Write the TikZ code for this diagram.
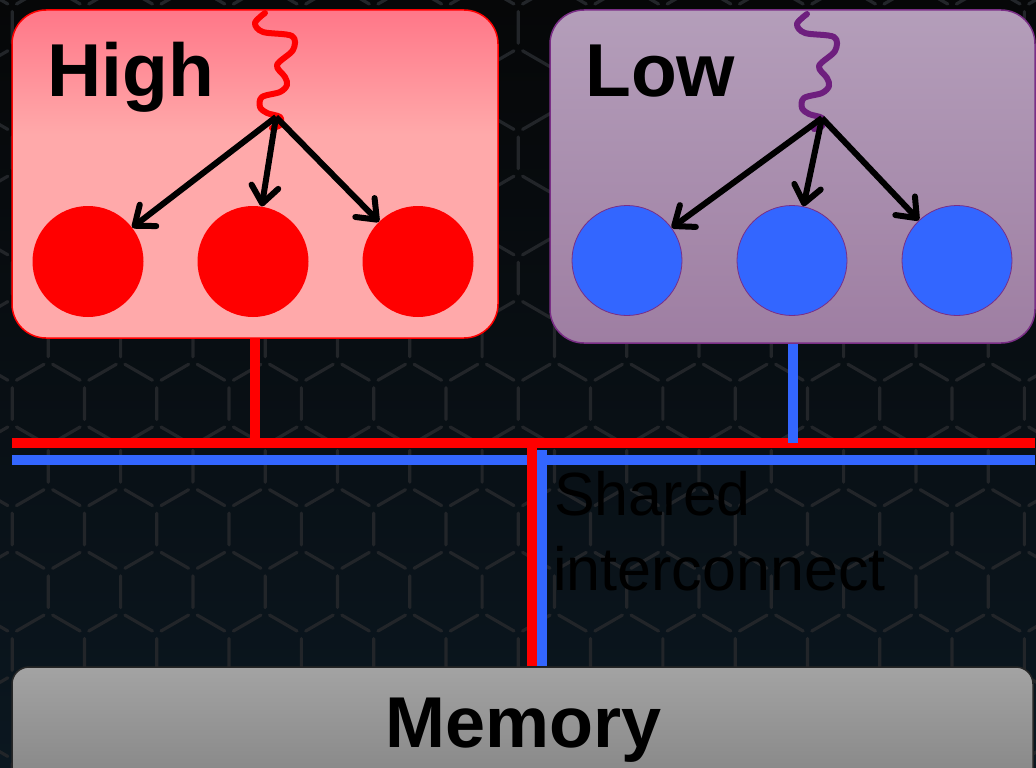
\documentclass[tikz,border=0pt]{standalone}
\usepackage{fontspec}
\setmainfont{Liberation Sans}
\usetikzlibrary{arrows.meta}

\definecolor{bgtop}{HTML}{060708}
\definecolor{bgbot}{HTML}{0B1720}
\definecolor{hexcol}{HTML}{222529}
\definecolor{hightop}{HTML}{FF7788}
\definecolor{highbot}{HTML}{FFA9AA}
\definecolor{lowtop}{HTML}{B49EBA}
\definecolor{lowbot}{HTML}{9E7EA2}
\definecolor{lowedge}{HTML}{7A2E86}
\definecolor{wirered}{HTML}{FF0000}
\definecolor{wireblue}{HTML}{3366FF}
\definecolor{squigpurple}{HTML}{6E1F7E}
\definecolor{memtop}{HTML}{A3A3A3}
\definecolor{membot}{HTML}{838383}

% pink fill: darker band at the top, flat below
\pgfdeclareverticalshading{highfill}{100bp}{color(0bp)=(highbot); color(56bp)=(highbot); color(75bp)=(hightop); color(100bp)=(hightop)}

\tikzset{
  hexline/.style={draw=hexcol, line width=3.2pt, line cap=round},
  highbox/.style={rectangle, rounded corners=34pt, draw=wirered, line width=1.5pt,
    shading=highfill, minimum width=486pt, minimum height=328pt, inner sep=0pt},
  lowbox/.style={rectangle, rounded corners=34pt, draw=lowedge, line width=1.5pt,
    top color=lowtop, bottom color=lowbot, minimum width=485pt, minimum height=333pt, inner sep=0pt},
  membox/.style={rectangle, rounded corners=17pt, draw=black!85, line width=1.5pt,
    top color=memtop, bottom color=membot, minimum width=1021pt, minimum height=130pt, inner sep=0pt},
  hdot/.style={circle, fill=wirered, minimum size=111pt, inner sep=0pt},
  ldot/.style={circle, fill=wireblue, draw=lowedge, line width=0.8pt, minimum size=110pt, inner sep=0pt},
  fanout/.style={draw=black, line width=6pt, -{Straight Barb[length=17pt,width=27pt,round]}},
  wire/.style={line width=10pt},
  title/.style={font=\fontsize{75pt}{90pt}\selectfont\bfseries, inner sep=0pt, anchor=base west},
  memtitle/.style={font=\fontsize{72pt}{86pt}\selectfont\bfseries, inner sep=0pt, anchor=base west},
  note/.style={font=\fontsize{61pt}{75pt}\selectfont, text=black, inner sep=0pt, anchor=base west},
  squiggle/.pic={
    \draw[line width=6pt, line cap=round, line join=round]
      plot[smooth, tension=0.55] coordinates {(0,0) (-10,10) (-2,19) (27,23) (28,37) (12,52)
        (20,64) (22,72) (15,79) (-3,84) (-5,94) (2,100) (15,104) (15,112) (7,115)};
  }
}

\begin{document}
\begin{tikzpicture}[x=1pt, y=-1pt]
\useasboundingbox (0,0) rectangle (1036,768);
\clip (0,0) rectangle (1036,768);

% dark backdrop
\shade[top color=bgtop, bottom color=bgbot] (0,0) rectangle (1036,768);

% hexagon texture: each cell draws its left side and two upper sides, with gaps at the corners
\foreach \m in {-5,...,2} {
  \foreach \k in {-1,...,15} {
    \foreach \off/\dy in {0/0, -36.15/62.7} {
      \draw[hexline, shift={({48.3+72.3*\k+\off},{529+125.4*\m+\dy})}]
        (-36.15,-15.9) -- (-36.15,15.9)
        (-31.82,-23.4) -- (-4.33,-39.3)
        (4.33,-39.3) -- (31.82,-23.4);
    }
  }
}

% two domains
\node[highbox] (highbox) at (255,174) {};
\node[lowbox] (lowbox) at (792.5,176.5) {};

\node[title] (hightxt) at (47.5,96.7) {High};
\node[title] (lowtxt) at (585,96.5) {Low};

\node[hdot] (h1) at (88,261.5) {};
\node[hdot] (h2) at (253,261.5) {};
\node[hdot] (h3) at (418,261.5) {};

\node[ldot] (l1) at (627,260.5) {};
\node[ldot] (l2) at (792,260.5) {};
\node[ldot] (l3) at (957,260.5) {};

% incoming event squiggles
\pic[color=wirered] at (265,13) {squiggle};
\pic[color=squigpurple] at (807,14) {squiggle};

\coordinate (hfan) at (276,117);
\coordinate (lfan) at (822,118);
\draw[fanout] (hfan) -- (h1);
\draw[fanout] (hfan) -- (h2);
\draw[fanout] (hfan) -- (h3);
\draw[fanout] (lfan) -- (l1);
\draw[fanout] (lfan) -- (l2);
\draw[fanout] (lfan) -- (l3);

% shared interconnect
\coordinate (rbusW) at (12,443);
\coordinate (rbusE) at (1035,443);
\coordinate (bbusW) at (12,460);
\coordinate (bbusE) at (1035,460);
\draw[wire, wirered] (rbusW) -- (rbusE);
\draw[wire, wireblue] (bbusW) -- (bbusE);
\draw[wire, wirered] (highbox.south) -- (highbox.south |- rbusW);
\draw[wire, wireblue] (lowbox.south) -- (lowbox.south |- rbusW);

\node[membox] (mem) at (522.5,732) {};

\coordinate (rtap) at (532,447);
\coordinate (btap) at (541.5,450);
\draw[wire, wirered] (rtap) -- (rtap |- mem.north);
\draw[wire, wireblue] (btap) -- (btap |- mem.north);

\node[memtitle] (memtxt) at (385,747) {Memory};

\node[note] (shared1) at (554,515) {Shared};
\node[note] (shared2) at (553,590) {interconnect};
\end{tikzpicture}
\end{document}
